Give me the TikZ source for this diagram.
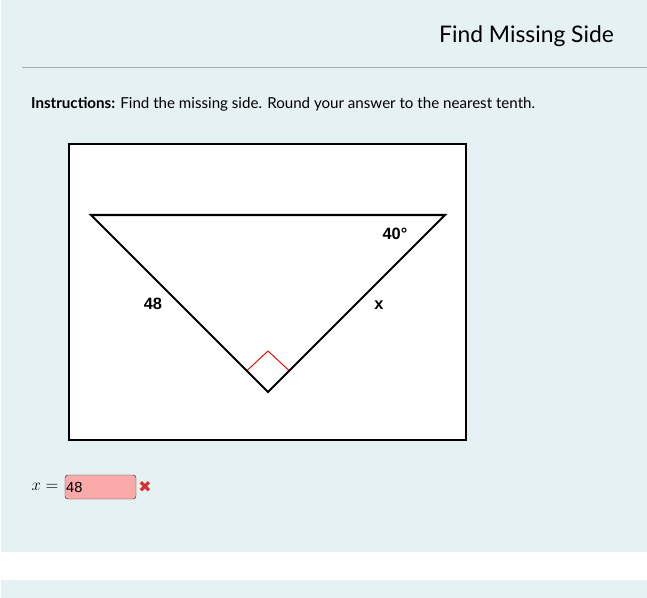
\documentclass[tikz,border=0pt]{standalone}
\usepackage{fontspec}
\setmainfont{Lato}
\newfontfamily\labelfont{Liberation Sans}
\newfontfamily\symfont{DejaVu Sans}
\usetikzlibrary{arrows.meta}
\usetikzlibrary{calc,positioning}
\definecolor{panel}{HTML}{E6F1F4}
\definecolor{rulegray}{HTML}{A3ADB1}
\definecolor{wrongfill}{HTML}{FBAAAA}
\definecolor{wrongred}{HTML}{D5322B}

\begin{document}
\begin{tikzpicture}[x=0.03cm,y=-0.03cm,>=Stealth,
    sidelabel/.style={font=\labelfont\bfseries\fontsize{14}{16}\selectfont}]
        \useasboundingbox (0,0) rectangle (647,598);
        \fill[panel] (1,0) rectangle (647,552);
        \fill[panel] (1,580) rectangle (647,598);
        \draw[rulegray] (22,67) -- (647,67);
        \node[anchor=east,font=\fontsize{19.5}{22}\selectfont] (title) at (618,36) {Find Missing Side};
        \node[anchor=west,font=\fontsize{12.9}{15}\selectfont] (instr) at (27,104) {\textbf{Instructions:} Find the missing side. Round your answer to the nearest tenth.};

        % figure
        \draw[line width=2.2pt,fill=white] (69,144) rectangle (466,440);
        \coordinate (A) at (91,215);
        \coordinate (B) at (445,215);
        \coordinate (C) at (268,392);
        \draw[red,line width=0.8pt] ($(C)!0.12!(A)$) -- ($(C)+(0,-41)$) -- ($(C)!0.12!(B)$);
        \draw[line width=1.8pt,line join=miter] (A) -- (B) -- (C) -- cycle;
        \node[sidelabel] (hyp) at (153,304) {48};
        \node[sidelabel] (ang) at (395,234) {40°};
        \node[sidelabel] (side) at (379,305) {x};

        % answer
        \node[font=\fontsize{13.5}{15}\selectfont] (eq) at (45,487) {$x=$};
        \node[draw=black!80,fill=wrongfill,rounded corners=2.5pt,minimum width=71*0.03cm,minimum height=24*0.03cm,inner sep=0pt] (box) at (100.5,487) {};
        \node[anchor=west,inner sep=1pt,font=\labelfont\fontsize{12.5}{14}\selectfont] (ans) at (box.west) {48};
        \node[wrongred,font=\symfont\fontsize{13.5}{14}\selectfont] (mark) at (145,487) {✖};
\end{tikzpicture}
\end{document}
